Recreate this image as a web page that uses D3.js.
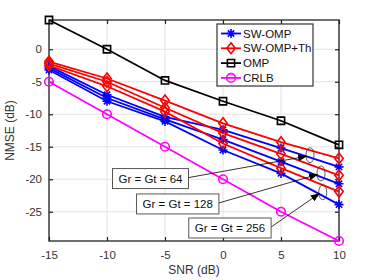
<!DOCTYPE html>
<html>
<head>
<meta charset="utf-8">
<script src="https://d3js.org/d3.v7.min.js"></script>
<style>
  body { margin: 0; background: #fff; }
  text { font-family: "Liberation Sans", Arial, sans-serif; }
</style>
</head>
<body>
<div class="main-container"></div>
<script>
// SNR values (dB)
const snr = [-15, -10, -5, 0, 5, 10];

// SW-OMP for Gr = Gt = 64, 128, 256
const swOmp64 = [-2.6, -7.0, -10.4, -12.4, -15.2, -18.1];
const swOmp128 = [-2.9, -7.5, -10.8, -13.9, -17.3, -20.7];
const swOmp256 = [-3.2, -8.0, -11.1, -15.5, -19.1, -23.9];

// SW-OMP+Th for Gr = Gt = 64, 128, 256
const swOmpTh64 = [-1.9, -4.5, -7.9, -11.4, -14.3, -16.8];
const swOmpTh128 = [-2.2, -5.0, -9.0, -12.9, -16.1, -19.4];
const swOmpTh256 = [-2.5, -5.7, -9.6, -14.5, -18.3, -21.9];

const omp = [4.5, 0, -4.8, -8.0, -11.0, -14.7];
const crlb = [-5, -10, -15, -20, -25, -29.5];

const xTicks = [-15, -10, -5, 0, 5, 10];
const yTicks = [0, -5, -10, -15, -20, -25];

const legendNames = ["SW-OMP", "SW-OMP+Th", "OMP", "CRLB"];

// annotation labels, their box centres and the ellipse they point to (data units)
const annLabels = ["Gr = Gt = 64", "Gr = Gt = 128", "Gr = Gt = 256"];
const annBox = [[-6.25, -19.9], [-3.9, -23.8], [0.6, -27.5]];
const annEllipse = [[7.5, -16.3], [8.45, -19.1], [8.6, -22.0]];

let margin = {top: 20, right: 35, bottom: 39, left: 49},
  width = 290,
  height = 221;

const svg = d3.select(".main-container")
  .append("svg")
  .attr("width", 374)
  .attr("height", 280)
  .append("g")
  .attr("transform", "translate(" + margin.left + "," + margin.top + ")");

let x = d3.scaleLinear().domain([-15, 10]).range([0, width]);
let y = d3.scaleLinear().domain([-29.5, 4.5]).range([height, 0]);

// grid
svg.append("g")
  .selectAll("line")
  .data(xTicks)
  .join("line")
  .attr("x1", d => x(d)).attr("x2", d => x(d))
  .attr("y1", 0).attr("y2", height)
  .attr("stroke", "#e3e3e3").attr("stroke-width", 1);
svg.append("g")
  .selectAll("line")
  .data(yTicks)
  .join("line")
  .attr("x1", 0).attr("x2", width)
  .attr("y1", d => y(d)).attr("y2", d => y(d))
  .attr("stroke", "#e3e3e3").attr("stroke-width", 1);

// axes, MATLAB style ticks pointing inside
function styleAxis(g) {
  g.select(".domain").remove();
  g.selectAll(".tick line").attr("stroke", "#222").attr("stroke-width", 1.2);
  g.selectAll(".tick text").attr("fill", "#333").style("font-size", "11.5px");
}
const fmt = d => String(d);
svg.append("g")
  .attr("transform", "translate(0," + height + ")")
  .call(d3.axisBottom(x).tickValues(xTicks).tickSizeInner(-4).tickSizeOuter(0).tickPadding(10).tickFormat(fmt))
  .call(styleAxis);
svg.append("g")
  .call(d3.axisTop(x).tickValues(xTicks).tickSizeInner(-4).tickSizeOuter(0).tickFormat(""))
  .call(styleAxis);
svg.append("g")
  .call(d3.axisLeft(y).tickValues(yTicks).tickSizeInner(-4).tickSizeOuter(0).tickPadding(7).tickFormat(fmt))
  .call(styleAxis);
svg.append("g")
  .attr("transform", "translate(" + width + ",0)")
  .call(d3.axisRight(y).tickValues(yTicks).tickSizeInner(-4).tickSizeOuter(0).tickFormat(""))
  .call(styleAxis);

svg.append("rect")
  .attr("width", width).attr("height", height)
  .attr("fill", "none").attr("stroke", "#222").attr("stroke-width", 1.3);

// marker shapes
function markerPath(kind) {
  if (kind === "star") {
    let r = 4.5, s = r * 0.7;
    return `M0,${-r}V${r}M${-r},0H${r}M${-s},${-s}L${s},${s}M${-s},${s}L${s},${-s}`;
  }
  if (kind === "diamond") return "M0,-5.5L4.2,0L0,5.5L-4.2,0Z";
  if (kind === "square") return "M-3.6,-3.6H3.6V3.6H-3.6Z";
  return d3.arc()({innerRadius: 0, outerRadius: 4.3, startAngle: 0, endAngle: 2 * Math.PI});
}

const series = [
  {values: swOmp64, color: "#0000ff", marker: "star"},
  {values: swOmp128, color: "#0000ff", marker: "star"},
  {values: swOmp256, color: "#0000ff", marker: "star"},
  {values: swOmpTh64, color: "#ff0000", marker: "diamond"},
  {values: swOmpTh128, color: "#ff0000", marker: "diamond"},
  {values: swOmpTh256, color: "#ff0000", marker: "diamond"},
  {values: omp, color: "#000000", marker: "square"},
  {values: crlb, color: "#ff00ff", marker: "circle"}
];

const line = d3.line()
  .x((d, i) => x(snr[i]))
  .y(d => y(d));

series.forEach(s => {
  svg.append("path")
    .datum(s.values)
    .attr("fill", "none")
    .attr("stroke", s.color)
    .attr("stroke-width", 1.8)
    .attr("d", line);
  svg.append("g")
    .selectAll("path")
    .data(s.values)
    .join("path")
    .attr("transform", (d, i) => `translate(${x(snr[i])},${y(d)})`)
    .attr("d", markerPath(s.marker))
    .attr("fill", "none")
    .attr("stroke", s.color)
    .attr("stroke-width", 1.6);
});

// annotations
svg.append("defs").append("marker")
  .attr("id", "arrow")
  .attr("viewBox", "0 0 10 10")
  .attr("refX", 10).attr("refY", 5)
  .attr("markerWidth", 9).attr("markerHeight", 9)
  .attr("markerUnits", "userSpaceOnUse")
  .attr("orient", "auto")
  .append("path")
  .attr("d", "M0,1L10,5L0,9Z")
  .attr("fill", "#000");

annLabels.forEach((label, i) => {
  let cx = x(annBox[i][0]), cy = y(annBox[i][1]);
  let ex = x(annEllipse[i][0]), ey = y(annEllipse[i][1]);
  const g = svg.append("g");

  g.append("ellipse")
    .attr("cx", ex).attr("cy", ey)
    .attr("rx", 4).attr("ry", 7.5)
    .attr("fill", "none")
    .attr("stroke", "#333").attr("stroke-width", 0.8);

  const line = g.append("line");
  const box = g.append("rect");
  const t = g.append("text")
    .attr("x", cx).attr("y", cy)
    .attr("text-anchor", "middle")
    .attr("dy", "0.35em")
    .style("font-size", "11.5px")
    .attr("fill", "#111")
    .text(label);
  let w = t.node().getComputedTextLength() + 12;
  let h = 20;

  line.attr("x1", cx + w / 2).attr("y1", cy - 1)
    .attr("x2", ex - 3).attr("y2", ey + 1)
    .attr("stroke", "#000").attr("stroke-width", 0.8)
    .attr("marker-end", "url(#arrow)");

  box.attr("x", cx - w / 2).attr("y", cy - h / 2)
    .attr("width", w).attr("height", h)
    .attr("fill", "#fff")
    .attr("stroke", "#444").attr("stroke-width", 0.9);
});

// legend
const legend = svg.append("g")
  .attr("transform", "translate(" + (217 - margin.left) + "," + (24 - margin.top) + ")");
legend.append("rect")
  .attr("width", 96).attr("height", 62)
  .attr("fill", "#fff")
  .attr("stroke", "#333").attr("stroke-width", 1.2);

legendNames.forEach((name, i) => {
  let s = series[[0, 3, 6, 7][i]];
  let ly = 9.5 + i * 14.8;
  legend.append("line")
    .attr("x1", 4).attr("x2", 24)
    .attr("y1", ly).attr("y2", ly)
    .attr("stroke", s.color).attr("stroke-width", 1.8);
  legend.append("path")
    .attr("transform", `translate(14,${ly})`)
    .attr("d", markerPath(s.marker))
    .attr("fill", "none")
    .attr("stroke", s.color).attr("stroke-width", 1.6);
  legend.append("text")
    .attr("x", 26).attr("y", ly)
    .attr("dy", "0.35em")
    .style("font-size", "11.5px")
    .attr("fill", "#111")
    .text(name);
});

// axis labels
svg.append("text")
  .attr("x", width / 2).attr("y", height + 33)
  .attr("text-anchor", "middle")
  .style("font-size", "12px")
  .attr("fill", "#333")
  .text("SNR (dB)");
svg.append("text")
  .attr("transform", "translate(-35," + (height / 2) + ")rotate(-90)")
  .attr("text-anchor", "middle")
  .style("font-size", "12px")
  .attr("fill", "#333")
  .text("NMSE (dB)");
</script>
</body>
</html>
